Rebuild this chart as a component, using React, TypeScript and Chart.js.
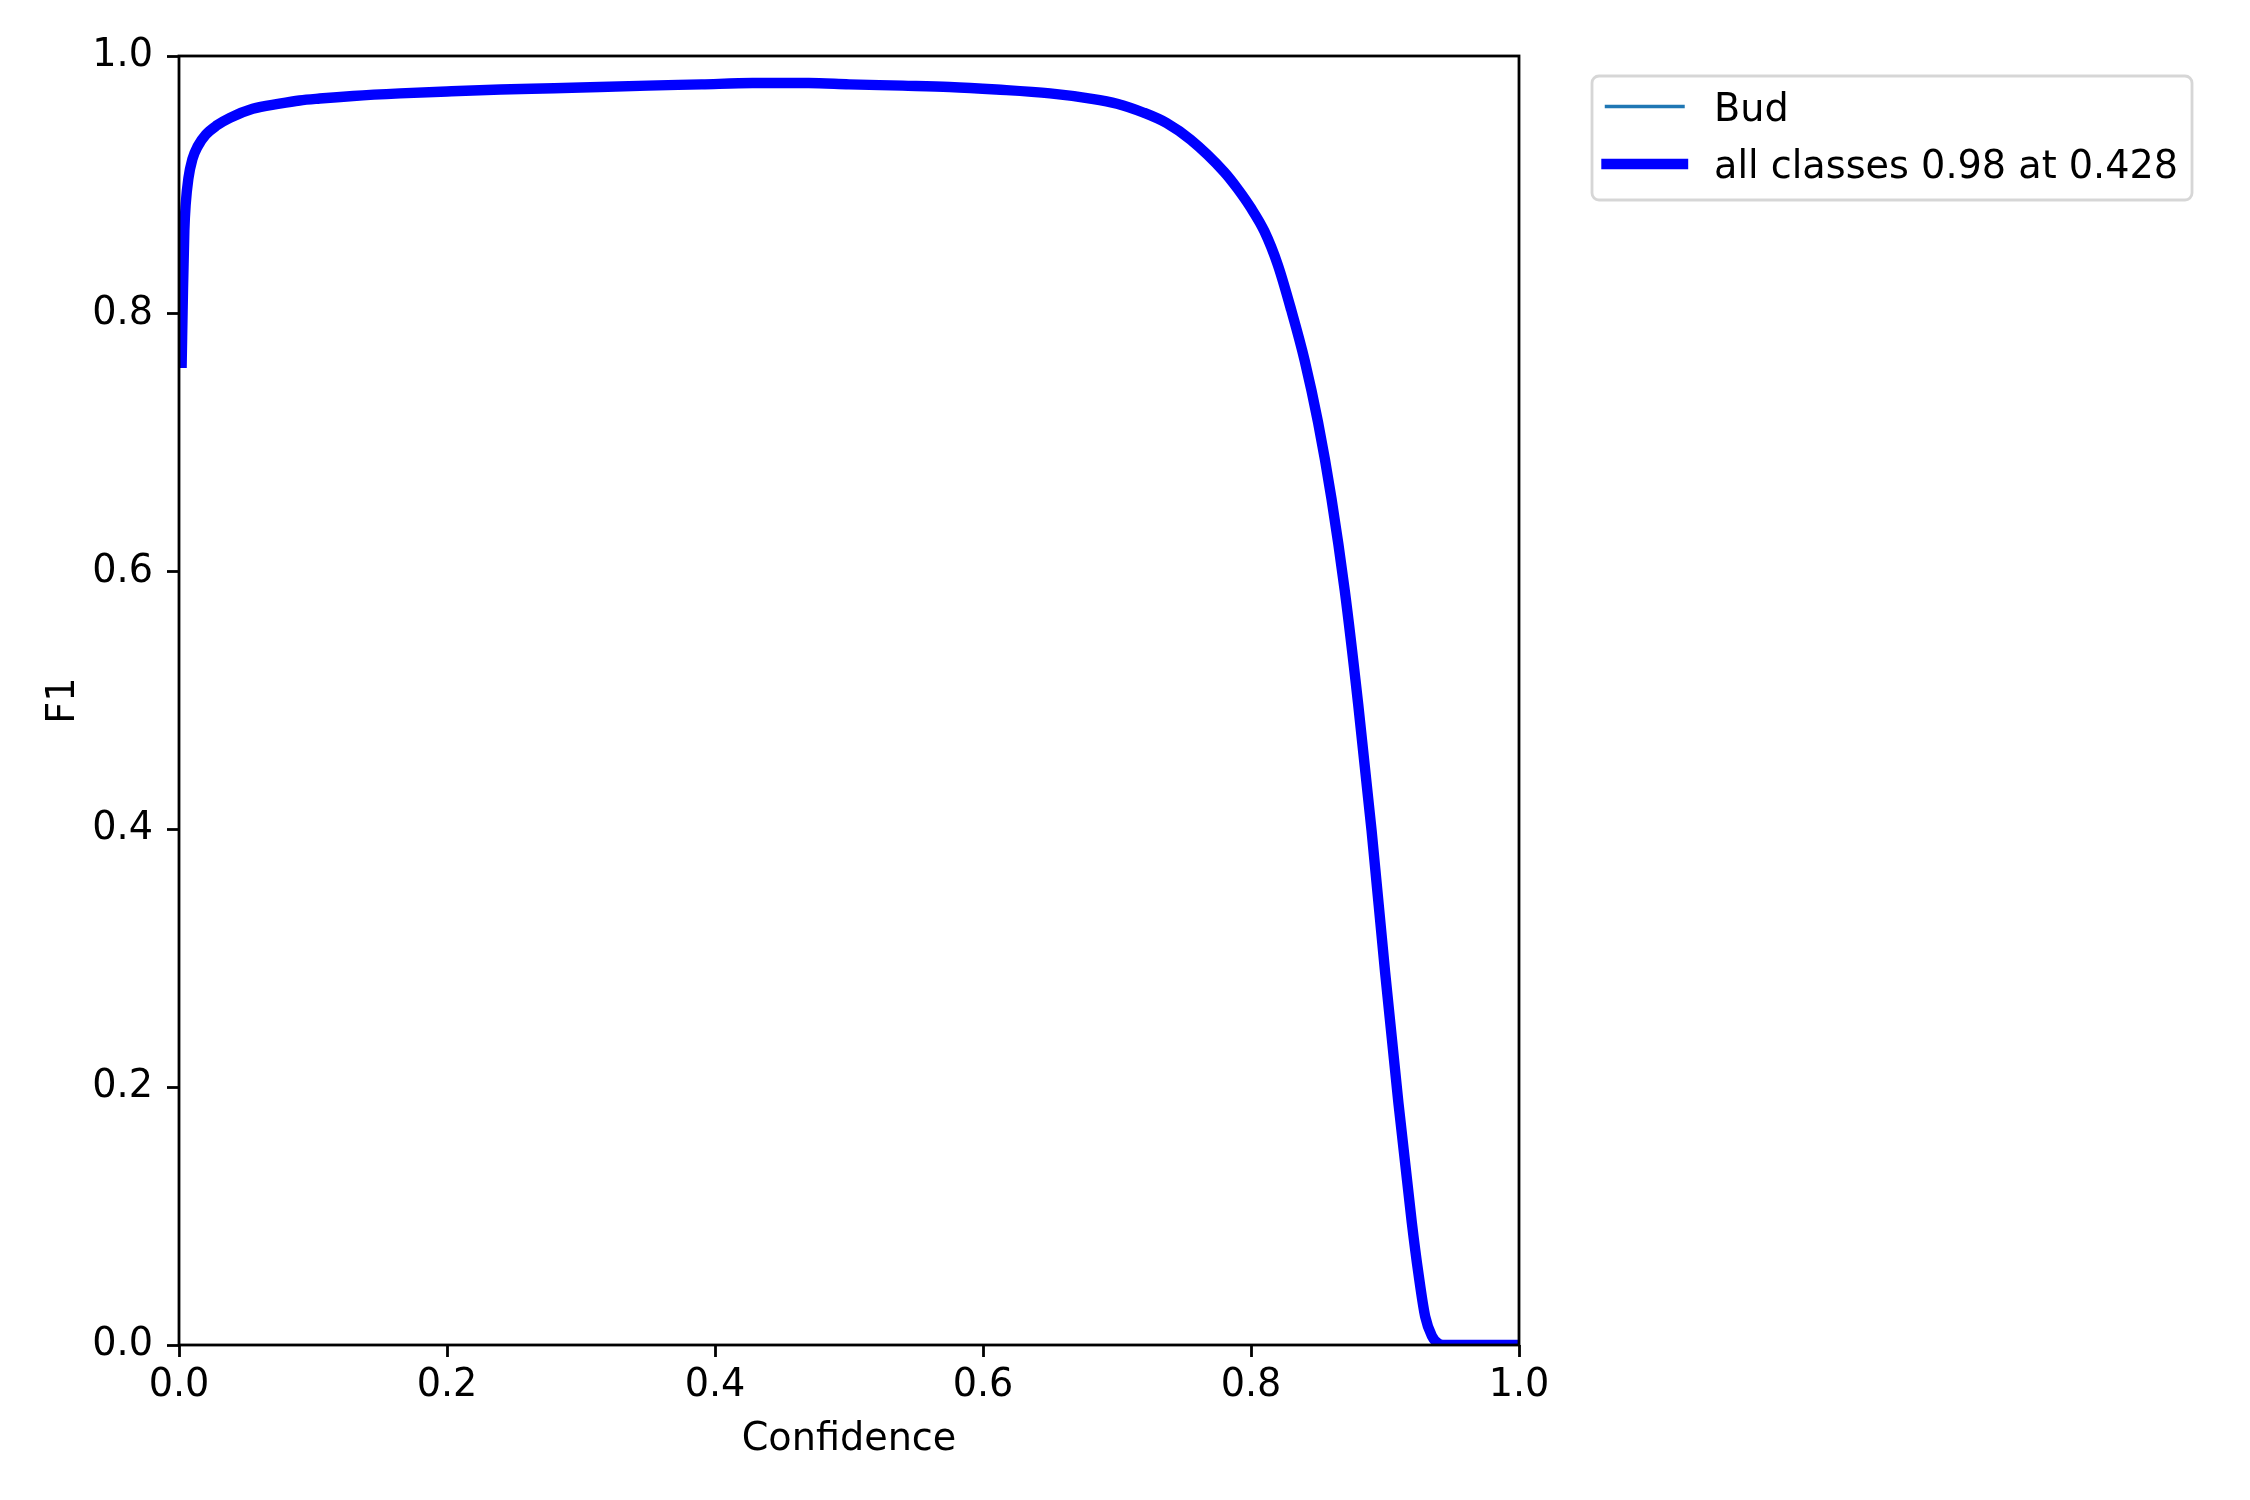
import React, { useEffect, useRef } from 'react';
import { Chart, registerables } from 'chart.js';

Chart.register(...registerables);

// ---- data ----
const confidence = [
  0.002, 0.003, 0.004, 0.005, 0.007, 0.01, 0.014, 0.02, 0.028, 0.038,
  0.055, 0.075, 0.09, 0.105, 0.13, 0.165, 0.2, 0.24, 0.28, 0.314,
  0.35, 0.39, 0.428, 0.47, 0.5, 0.54, 0.575, 0.61, 0.65, 0.68,
  0.7, 0.72, 0.737, 0.755, 0.78, 0.79, 0.8, 0.81, 0.82, 0.83,
  0.84, 0.85, 0.86, 0.87, 0.88, 0.89, 0.9, 0.91, 0.92, 0.925,
  0.93, 0.935, 0.94, 0.945, 0.97, 1.0,
];
const f1Bud = [
  0.762, 0.82, 0.865, 0.885, 0.905, 0.92, 0.93, 0.939, 0.946, 0.952,
  0.959, 0.963, 0.9655, 0.967, 0.969, 0.971, 0.9725, 0.974, 0.975, 0.976,
  0.977, 0.978, 0.979, 0.979, 0.978, 0.977, 0.976, 0.974, 0.971, 0.967,
  0.963, 0.956, 0.948, 0.935, 0.91, 0.897, 0.882, 0.864, 0.838, 0.803,
  0.764, 0.716, 0.657, 0.585, 0.497, 0.399, 0.29, 0.188, 0.095, 0.055,
  0.022, 0.007, 0.001, 0.0, 0.0, 0.0,
];
// single class: the all-classes mean equals the Bud curve
const f1AllClasses = f1Bud.slice();

const tickValues = [0, 0.2, 0.4, 0.6, 0.8, 1.0];
const tickLabels = ['0.0', '0.2', '0.4', '0.6', '0.8', '1.0'];
const seriesLabels = ['Bud', 'all classes 0.98 at 0.428'];
const xTitle = 'Confidence';
const yTitle = 'F1';

const FONT = "'DejaVu Sans', sans-serif";
const FS = 38.2;
const SPINE = 2.8;

const framePlugin = {
  id: 'frameAndText',
  afterDatasetsDraw(chart: any) {
    const { ctx, chartArea } = chart;
    const { left, right, top, bottom } = chartArea;
    ctx.save();
    ctx.strokeStyle = '#000';
    ctx.lineWidth = SPINE;
    ctx.strokeRect(left, top, right - left, bottom - top);

    // axis titles
    ctx.fillStyle = '#000';
    ctx.font = `${FS}px ${FONT}`;
    ctx.textAlign = 'center';
    ctx.textBaseline = 'alphabetic';
    ctx.fillText(xTitle, (left + right) / 2, 1450);
    ctx.save();
    ctx.translate(74, (top + bottom) / 2);
    ctx.rotate(-Math.PI / 2);
    ctx.fillText(yTitle, 0, 0);
    ctx.restore();

    // legend
    const bx = 1592, by = 76, bw = 600, bh = 124;
    ctx.beginPath();
    (ctx as any).roundRect(bx, by, bw, bh, 7);
    ctx.fillStyle = 'rgba(255,255,255,0.8)';
    ctx.fill();
    ctx.strokeStyle = 'rgba(204,204,204,0.8)';
    ctx.lineWidth = 2.8;
    ctx.stroke();

    const ds = chart.data.datasets;
    const rows = [
      { y: 106.5, base: 121, d: ds[1] },
      { y: 164, base: 178, d: ds[0] },
    ];
    rows.forEach((r) => {
      ctx.beginPath();
      ctx.lineCap = 'square';
      ctx.strokeStyle = r.d.borderColor;
      ctx.lineWidth = r.d.borderWidth;
      ctx.moveTo(1606.5, r.y);
      ctx.lineTo(1683, r.y);
      ctx.stroke();
      ctx.fillStyle = '#000';
      ctx.textAlign = 'left';
      ctx.textBaseline = 'alphabetic';
      ctx.fillText(r.d.label, 1714, r.base);
    });
    ctx.restore();
  },
};

export default function App() {
  const ref = useRef<HTMLCanvasElement | null>(null);

  useEffect(() => {
    if (!ref.current) return;
    const allPts = confidence.map((x, i) => ({ x, y: f1AllClasses[i] }));
    const budPts = confidence.map((x, i) => ({ x, y: f1Bud[i] }));

    const axisCommon = (padding: number) => ({
      type: 'linear' as const,
      min: 0,
      max: 1,
      afterBuildTicks: (scale: any) => {
        scale.ticks = tickValues.map((v) => ({ value: v }));
      },
      ticks: {
        autoSkip: false,
        maxRotation: 0,
        minRotation: 0,
        padding,
        color: '#000',
        font: { family: FONT, size: FS },
        callback: (_v: any, i: number) => tickLabels[i],
      },
      grid: {
        display: true,
        drawOnChartArea: false,
        drawTicks: true,
        tickLength: 12,
        tickWidth: SPINE,
        tickColor: '#000',
      },
      border: { display: false },
      title: { display: false },
    });

    const lineCommon = {
      pointRadius: 0,
      fill: false,
      clip: 0,
      cubicInterpolationMode: 'monotone',
      borderCapStyle: 'square',
      borderJoinStyle: 'round',
    };

    const chart = new Chart(ref.current, {
      type: 'line',
      data: {
        datasets: [
          {
            ...lineCommon,
            label: seriesLabels[1],
            data: allPts,
            borderColor: '#0000ff',
            borderWidth: 10.4,
            order: 0,
          },
          {
            ...lineCommon,
            label: seriesLabels[0],
            data: budPts,
            borderColor: '#1f77b4',
            borderWidth: 3.47,
            order: 1,
          },
        ],
      },
      options: {
        animation: false,
        responsive: false,
        devicePixelRatio: 1,
        layout: { padding: { left: 0, top: 56, right: 2250 - 1519, bottom: 0 } },
        plugins: {
          legend: { display: false },
          tooltip: { enabled: false },
          title: { display: false },
        },
        scales: {
          x: {
            ...axisCommon(6),
            afterFit: (scale: any) => {
              scale.height = 1500 - 1345;
            },
          },
          y: {
            ...axisCommon(14),
            afterFit: (scale: any) => {
              scale.width = 179;
            },
          },
        },
      } as any,
      plugins: [framePlugin],
    });
    return () => chart.destroy();
  }, []);

  return (
    <div style={{ position: 'fixed', left: 0, top: 0, width: 2250, height: 1500, background: '#fff' }}>
      <canvas ref={ref} width={2250} height={1500} style={{ width: 2250, height: 1500, display: 'block' }} />
    </div>
  );
}
